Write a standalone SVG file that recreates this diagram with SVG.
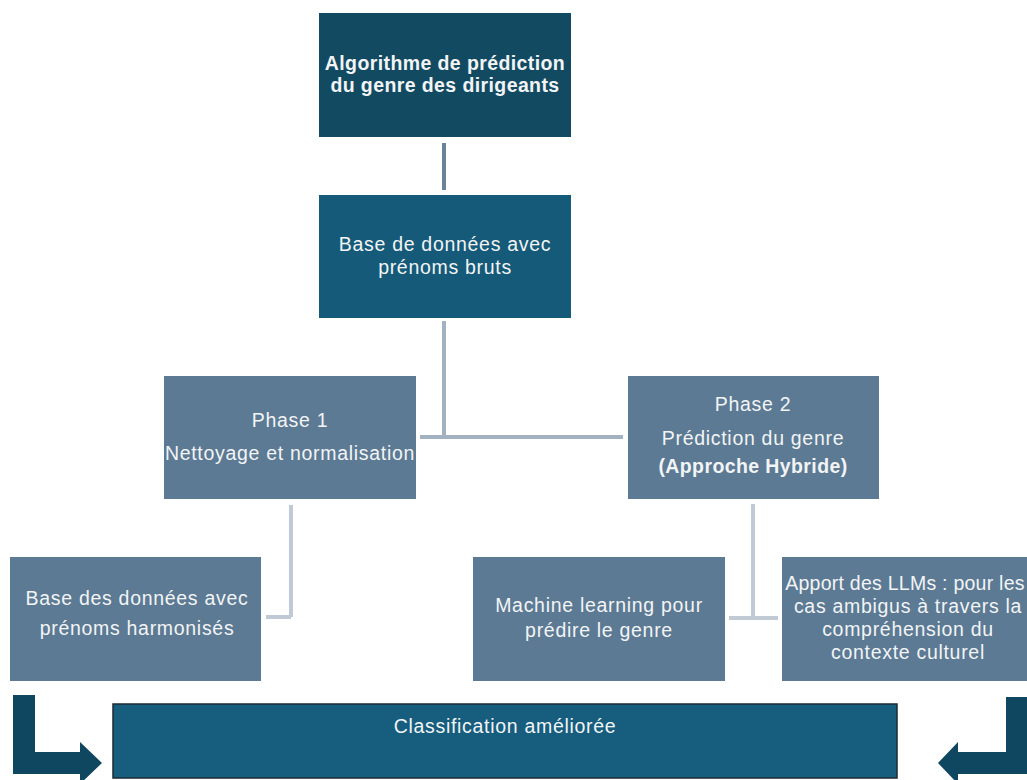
<svg xmlns="http://www.w3.org/2000/svg" width="1027" height="780" viewBox="0 0 1027 780">
  <style>
    .lbl { font-family: "Liberation Sans", Arial, sans-serif; font-size: 19.5px; fill: #f2f4f6; text-anchor: middle; letter-spacing: 0.7px; }
    .bold { font-weight: bold; letter-spacing: 0.4px; }
    .tight { letter-spacing: 0.25px; }
    .dark { fill: #124a62; }
    .mid { fill: #155a78; }
    .phase { fill: #5c7a93; }
    .result { fill: #165d7e; stroke: #1d2b33; stroke-width: 1.5; }
    .arrow { fill: #0f4660; }
    .link { fill: none; stroke-width: 4; }
    .link-a { stroke: #6b8399; }
    .link-b { stroke: #a2b2c1; }
    .link-c { stroke: #bfcad4; }
  </style>

  <rect width="1027" height="780" fill="#ffffff"/>

  <!-- connectors -->
  <g id="connectors">
    <path class="link link-a" d="M444 143 V190"/>
    <path class="link link-b" d="M444 321 V437 M420 437 H623"/>
    <path class="link link-c" d="M291 505 V617 M266 617 H291"/>
    <path class="link link-c" d="M753 504 V618 M729 618 H778"/>
  </g>

  <g id="node-algorithme">
    <rect class="dark" x="319" y="13" width="252" height="124"/>
    <text class="lbl bold" x="445" y="70">Algorithme de prédiction</text>
    <text class="lbl bold" x="445" y="92">du genre des dirigeants</text>
  </g>

  <g id="node-base-brute">
    <rect class="mid" x="319" y="195" width="252" height="123"/>
    <text class="lbl" x="445" y="251">Base de données avec</text>
    <text class="lbl" x="445" y="274">prénoms bruts</text>
  </g>

  <g id="node-phase1">
    <rect class="phase" x="164" y="376" width="252" height="123"/>
    <text class="lbl" x="290" y="427">Phase 1</text>
    <text class="lbl" x="290" y="460">Nettoyage et normalisation</text>
  </g>

  <g id="node-phase2">
    <rect class="phase" x="628" y="376" width="251" height="123"/>
    <text class="lbl" x="753" y="411">Phase 2</text>
    <text class="lbl" x="753" y="445">Prédiction du genre</text>
    <text class="lbl bold" x="753" y="473">(Approche Hybride)</text>
  </g>

  <g id="node-base-harmonisee">
    <rect class="phase" x="10" y="557" width="251" height="124"/>
    <text class="lbl" x="137" y="605">Base des données avec</text>
    <text class="lbl" x="137" y="635">prénoms harmonisés</text>
  </g>

  <g id="node-machine-learning">
    <rect class="phase" x="473" y="557" width="252" height="124"/>
    <text class="lbl" x="599" y="612">Machine learning pour</text>
    <text class="lbl" x="599" y="637">prédire le genre</text>
  </g>

  <g id="node-llm">
    <rect class="phase" x="782" y="557" width="252" height="124"/>
    <text class="lbl tight" x="905" y="590">Apport des LLMs : pour les</text>
    <text class="lbl" x="908" y="613">cas ambigus à travers la</text>
    <text class="lbl" x="908" y="636">compréhension du</text>
    <text class="lbl" x="908" y="659">contexte culturel</text>
  </g>

  <g id="node-classification">
    <rect class="result" x="113" y="704" width="784" height="74"/>
    <text class="lbl" x="505" y="733">Classification améliorée</text>
  </g>

  <!-- bent arrows feeding the result bar -->
  <g id="arrow-left">
    <polygon class="arrow" points="13,695 35,695 35,752 80,752 80,742 102,763 80,784 80,774 13,774"/>
  </g>
  <g id="arrow-right">
    <polygon class="arrow" points="1006,697 1028,697 1028,774 958,774 958,784 938,763 958,742 958,752 1006,752"/>
  </g>
</svg>
